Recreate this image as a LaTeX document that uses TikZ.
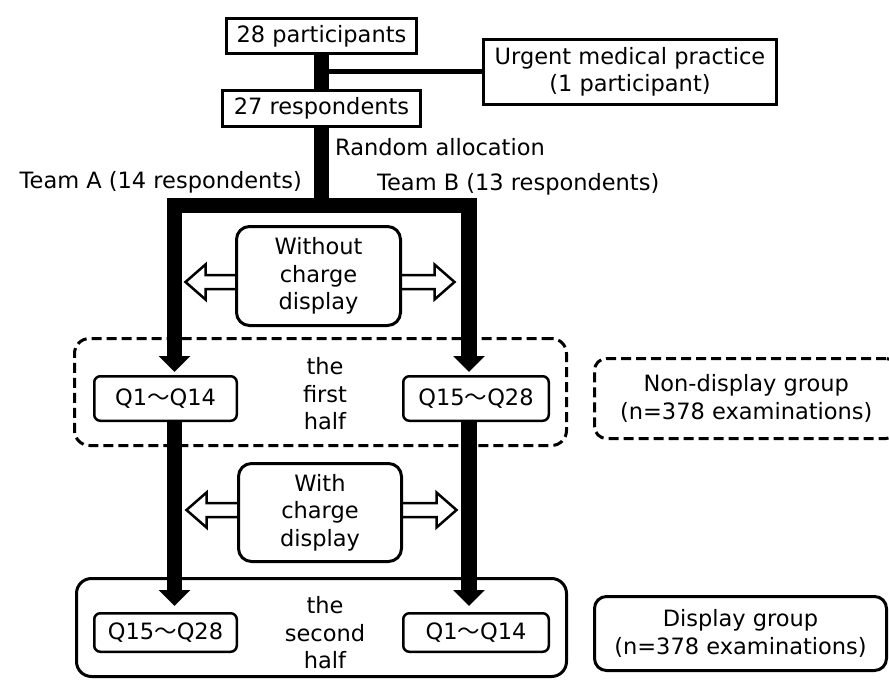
\documentclass[tikz,border=0pt]{standalone}
\usepackage{fontspec}
\setmainfont{DejaVu Sans}
\newfontfamily\cjkfont{Noto Sans CJK JP}
\usetikzlibrary{arrows.meta,calc,backgrounds}
\newcommand{\wavedash}{{\cjkfont 〜}}
\begin{document}
\begin{tikzpicture}[x=1pt,y=-1pt,font=\fontsize{22.5}{27.5}\selectfont]
\tikzset{
  sqbox/.style={draw, line width=3pt, inner sep=0pt, fill=white, align=center},
  rbox/.style={sqbox, rounded corners=13pt},
  qbox/.style={draw, line width=2.5pt, rounded corners=6pt, fill=white, inner sep=0pt},
  bigbox/.style={draw, line width=3pt, rounded corners=15pt, inner sep=0pt, align=center},
  dashbox/.style={bigbox, dash pattern=on 10pt off 5pt},
  bar/.style={line width=15.5pt, line join=miter},
  headtip/.tip={Triangle[width=31pt,length=16pt]},
  hollow/.style={draw, line width=2.5pt, fill=white, line join=miter},
  lbl/.style={inner sep=0pt, align=center}
}
\useasboundingbox (0,0) rectangle (889,682);
% nodes
\node[sqbox, minimum width=190pt, minimum height=35pt] (b28) at (321.5,36) {28 participants};
\node[sqbox, minimum width=198pt, minimum height=36pt] (b27) at (321.5,108.5) {27 respondents};
\node[sqbox, minimum width=293pt, minimum height=65pt] (urg) at (630,72) {Urgent medical practice\\(1 participant)};
\node[lbl, anchor=west] (rand) at (335,147) {Random allocation};
\node[lbl, anchor=east] (ta) at (302,182) {Team A (14 respondents)};
\node[lbl, anchor=west] (tb) at (377,184) {Team B (13 respondents)};
\node[rbox, minimum width=164pt, minimum height=99pt] (wo) at (318.5,276) {Without\\charge\\display};
\node[dashbox, minimum width=492pt, minimum height=107pt] (half1) at (320.5,392) {};
\node[qbox, minimum width=142.5pt, minimum height=44.5pt] (qa1) at (165.5,398.5) {Q1\wavedash{}Q14};
\node[qbox, minimum width=145.5pt, minimum height=44.5pt] (qb1) at (476,398.5) {Q15\wavedash{}Q28};
\node[lbl] (t1) at (325,394) {the\\first\\half};
\node[rbox, minimum width=163pt, minimum height=98pt] (wi) at (320,512.5) {With\\charge\\display};
\node[bigbox, minimum width=490pt, minimum height=98pt] (half2) at (321.5,627.5) {};
\node[qbox, minimum width=142.5pt, minimum height=38.5pt] (qa2) at (165.5,632.5) {Q15\wavedash{}Q28};
\node[qbox, minimum width=145.5pt, minimum height=38.5pt] (qb2) at (476,632.5) {Q1\wavedash{}Q14};
\node[lbl] (t2) at (325,633) {the\\second\\half};
\node[dashbox, rounded corners=12pt, minimum width=303.5pt, minimum height=80pt] (nd) at (746.25,398.5) {Non-display group\\(n=378 examinations)};
\node[bigbox, rounded corners=12pt, minimum width=292pt, minimum height=74pt] (dg) at (740.5,633.5) {Display group\\(n=378 examinations)};
\coordinate (LA) at (174.5,205.5);
\coordinate (RB) at (469,205.5);
% connectors
\begin{pgfonlayer}{background}
\draw[line width=5pt] (b28.south |- urg.west) -- (urg.west);
\draw[bar] (b28.south) -- (b27.north);
\draw[bar] (b27.south) -- (b27.south |- LA);
\draw[bar, headtip-headtip] ($(LA |- qa1.north)+(0,-3)$) -- (LA) -- (RB) -- ($(RB |- qb1.north)+(0,-3)$);
\draw[bar, -headtip] (LA |- qa1.south) -- ($(LA |- qa2.north)+(0,-6)$);
\draw[bar, -headtip] (RB |- qb1.south) -- ($(RB |- qb2.north)+(0,-6)$);
% hollow arrows
\draw[hollow] ([shift={(4,6)}]wo.west) -- ++(0,-7) -- ++(-33.5,0) -- ++(0,-10.5) -- ++(-20,17.5) -- ++(20,17.5) -- ++(0,-10.5) -- ++(33.5,0) -- cycle;
\draw[hollow] ([shift={(-4,6)}]wo.east) -- ++(0,-7) -- ++(36.5,0) -- ++(0,-10.5) -- ++(20,17.5) -- ++(-20,17.5) -- ++(0,-10.5) -- ++(-36.5,0) -- cycle;
\draw[hollow] ([shift={(4,-2.5)}]wi.west) -- ++(0,-7) -- ++(-34.5,0) -- ++(0,-10.5) -- ++(-20,17.5) -- ++(20,17.5) -- ++(0,-10.5) -- ++(34.5,0) -- cycle;
\draw[hollow] ([shift={(-4,-2.5)}]wi.east) -- ++(0,-7) -- ++(37.5,0) -- ++(0,-10.5) -- ++(20,17.5) -- ++(-20,17.5) -- ++(0,-10.5) -- ++(-37.5,0) -- cycle;
\end{pgfonlayer}
\end{tikzpicture}
\end{document}
